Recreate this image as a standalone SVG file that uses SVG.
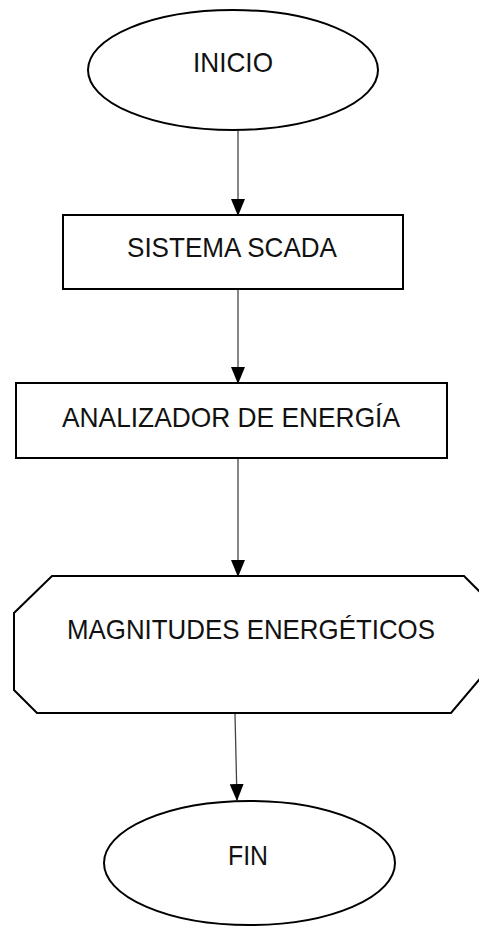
<svg xmlns="http://www.w3.org/2000/svg" width="479" height="926" viewBox="0 0 479 926">
<style>
.shape{fill:#fff;stroke:#000;stroke-width:2}
.lbl{font-family:"Liberation Sans",Arial,sans-serif;font-size:28px;fill:#111;text-anchor:middle}
.conn{stroke:#444;stroke-width:1.3;fill:none;marker-end:url(#arr)}
</style>
<defs>
<marker id="arr" markerUnits="userSpaceOnUse" markerWidth="17" markerHeight="14" viewBox="0 0 17 14" refX="16" refY="7" orient="auto">
<path d="M0,0 L17,7 L0,14 z" fill="#000"/>
</marker>
</defs>
<rect width="479" height="926" fill="#fff"/>
<g id="connectors">
<line class="conn" x1="238" y1="131" x2="238" y2="215"/>
<line class="conn" x1="238" y1="290" x2="238" y2="383"/>
<line class="conn" x1="238" y1="459" x2="238" y2="576"/>
<line class="conn" x1="235" y1="714" x2="237" y2="800"/>
</g>
<g id="inicio">
<ellipse class="shape" cx="233" cy="70" rx="145" ry="60"/>
<text class="lbl" x="233" y="72" textLength="80" lengthAdjust="spacingAndGlyphs">INICIO</text>
</g>
<g id="scada">
<rect class="shape" x="63" y="215" width="340" height="74"/>
<text class="lbl" x="232" y="257" textLength="210" lengthAdjust="spacingAndGlyphs">SISTEMA SCADA</text>
</g>
<g id="analizador">
<rect class="shape" x="16" y="383" width="431" height="75"/>
<text class="lbl" x="231" y="427" textLength="338" lengthAdjust="spacingAndGlyphs">ANALIZADOR DE ENERGÍA</text>
</g>
<g id="magnitudes">
<polygon class="shape" points="52,576 464,576 495,607 495,661 451,713 37,713 14,690 14,613"/>
<text class="lbl" x="251" y="639" textLength="368" lengthAdjust="spacingAndGlyphs">MAGNITUDES ENERGÉTICOS</text>
</g>
<g id="fin">
<ellipse class="shape" cx="249.5" cy="863" rx="145.5" ry="62"/>
<text class="lbl" x="248" y="865" textLength="40" lengthAdjust="spacingAndGlyphs">FIN</text>
</g>
</svg>
